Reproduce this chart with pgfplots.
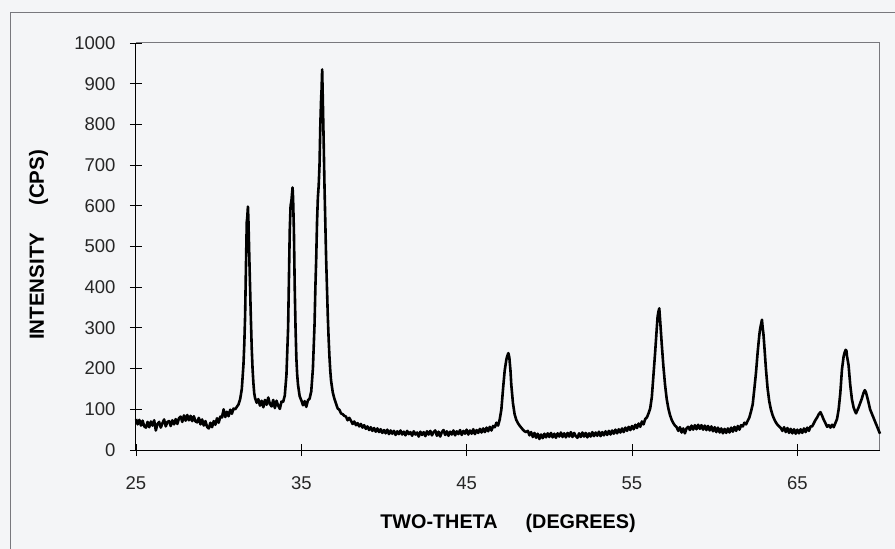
\documentclass[border=0pt]{standalone}
\usepackage{pgfplots}
\pgfplotsset{compat=1.18}
\usepackage{fontspec}
\setmainfont{Liberation Sans}
\definecolor{paper}{RGB}{244,245,247}
\definecolor{framegray}{RGB}{120,120,125}
\begin{document}
\begin{tikzpicture}
\useasboundingbox (-136pt,-99pt) rectangle (759pt,450pt);
\fill[paper] (-136pt,-99pt) rectangle (759pt,450pt);
\draw[framegray, line width=1.3pt] (-125.5pt,-99pt) -- (-125.5pt,437.5pt) -- (759pt,437.5pt);
\begin{axis}[
  at={(0pt,0pt)}, anchor=south west,
  scale only axis, width=744pt, height=407pt,
  xmin=25, xmax=70, ymin=0, ymax=1000,
  xtick={25,35,45,55,65}, ytick={0,100,...,1000},
  axis x line*=bottom, axis y line*=left,
  axis line style={black, line width=1pt},
  tick align=center, major tick length=12pt,
  tick style={black, line width=0.9pt},
  /pgf/number format/assume math mode=true,
  /pgf/number format/1000 sep={},
  ticklabel style={font=\fontsize{18.5}{20}\selectfont, text=black!85},
  yticklabel style={xshift=-11pt},
  xticklabel style={yshift=-17pt},
  xlabel={TWO-THETA\hspace{28pt}(DEGREES)},
  ylabel={INTENSITY\hspace{27pt}(CPS)},
  xlabel style={font=\bfseries\fontsize{19.8}{22}\selectfont, at={(axis description cs:0.5,-0.181)}, anchor=center},
  ylabel style={font=\bfseries\fontsize{20.5}{22}\selectfont, at={(axis description cs:-0.131,0.504)}, anchor=center},
  clip=false,
]
\draw[framegray, line width=1pt] (rel axis cs:0,1) -- (rel axis cs:1,1) -- (rel axis cs:1,0);
\addplot[black, line width=2.6pt, line join=round] coordinates {
(25.0,76) (25.1,63) (25.2,74) (25.3,60) (25.4,72) (25.5,58) (25.6,55) (25.7,69) (25.8,56) (25.9,70)
(26.0,60) (26.1,73) (26.2,48) (26.3,64) (26.4,69) (26.5,55) (26.6,66) (26.7,75) (26.8,58) (26.9,69)
(27.0,71) (27.1,59) (27.2,73) (27.3,63) (27.4,76) (27.5,64) (27.6,78) (27.7,82) (27.8,69) (27.9,85)
(28.0,72) (28.1,86) (28.2,73) (28.3,84) (28.4,71) (28.5,83) (28.6,70) (28.7,68) (28.8,79) (28.9,63)
(29.0,75) (29.1,60) (29.2,71) (29.3,57) (29.4,53) (29.5,67) (29.6,56) (29.7,71) (29.8,62) (29.9,78)
(30.0,67) (30.1,82) (30.2,80) (30.3,100) (30.4,81) (30.5,94) (30.6,83) (30.7,99) (30.8,89) (30.9,102)
(31.0,100) (31.1,106) (31.2,112) (31.3,125) (31.4,150) (31.5,210) (31.55,260) (31.6,330) (31.65,450) (31.7,560)
(31.73,572) (31.77,598) (31.8,565) (31.85,480) (31.9,400) (31.95,320) (32.0,250) (32.05,200) (32.1,165) (32.15,140)
(32.2,128) (32.3,116) (32.4,125) (32.5,109) (32.6,121) (32.7,105) (32.8,123) (32.9,111) (33.0,129) (33.1,113)
(33.2,107) (33.3,123) (33.4,103) (33.5,121) (33.6,109) (33.7,101) (33.8,119) (33.9,118) (34.0,134) (34.1,185)
(34.2,300) (34.25,420) (34.3,540) (34.35,600) (34.4,612) (34.47,645) (34.5,620) (34.55,540) (34.6,400) (34.65,300)
(34.7,225) (34.75,185) (34.8,160) (34.9,132) (35.0,122) (35.1,110) (35.2,120) (35.3,106) (35.4,122) (35.5,126)
(35.6,144) (35.7,200) (35.8,310) (35.85,400) (35.9,470) (35.95,560) (36.0,620) (36.05,650) (36.1,700) (36.15,800)
(36.2,868) (36.22,880) (36.26,935) (36.3,860) (36.35,760) (36.4,650) (36.45,560) (36.5,470) (36.55,400) (36.6,330)
(36.65,275) (36.7,230) (36.75,195) (36.8,170) (36.9,142) (37.0,126) (37.1,114) (37.2,102) (37.3,99) (37.4,90)
(37.5,88) (37.6,84) (37.7,82) (37.8,73) (37.9,79) (38.0,72) (38.1,64) (38.2,70) (38.3,61) (38.4,66)
(38.5,58) (38.6,64) (38.7,55) (38.8,61) (38.9,52) (39.0,58) (39.1,49) (39.2,56) (39.3,47) (39.4,54)
(39.5,45) (39.6,53) (39.7,44) (39.8,51) (39.9,42) (40.0,49) (40.1,41) (40.2,50) (40.3,39) (40.4,48)
(40.5,40) (40.6,47) (40.7,37) (40.8,46) (40.9,39) (41.0,48) (41.1,38) (41.2,45) (41.3,36) (41.4,47)
(41.5,39) (41.6,44) (41.7,35) (41.8,46) (41.9,38) (42.0,43) (42.1,33) (42.2,45) (42.3,37) (42.4,44)
(42.5,34) (42.6,46) (42.7,38) (42.8,47) (42.9,36) (43.0,44) (43.1,48) (43.2,35) (43.3,45) (43.4,33)
(43.5,44) (43.6,49) (43.7,37) (43.8,46) (43.9,35) (44.0,45) (44.1,38) (44.2,48) (44.3,36) (44.4,46)
(44.5,39) (44.6,49) (44.7,37) (44.8,47) (44.9,40) (45.0,50) (45.1,38) (45.2,48) (45.3,40) (45.4,51)
(45.5,39) (45.6,49) (45.7,42) (45.8,52) (45.9,43) (46.0,53) (46.1,44) (46.2,55) (46.3,46) (46.4,57)
(46.5,48) (46.6,59) (46.7,56) (46.8,67) (46.9,60) (47.0,75) (47.1,100) (47.2,150) (47.3,195) (47.4,222)
(47.45,230) (47.52,238) (47.58,228) (47.65,195) (47.7,160) (47.8,115) (47.9,88) (48.0,74) (48.1,66) (48.2,60)
(48.3,55) (48.4,50) (48.5,46) (48.6,44) (48.7,47) (48.8,36) (48.9,44) (49.0,32) (49.1,42) (49.2,30)
(49.3,40) (49.4,27) (49.5,38) (49.6,29) (49.7,40) (49.8,31) (49.9,41) (50.0,32) (50.1,42) (50.2,31)
(50.3,40) (50.4,30) (50.5,41) (50.6,33) (50.7,43) (50.8,32) (50.9,41) (51.0,31) (51.1,42) (51.2,33)
(51.3,44) (51.4,32) (51.5,42) (51.6,34) (51.7,30) (51.8,41) (51.9,32) (52.0,43) (52.1,33) (52.2,42)
(52.3,31) (52.4,41) (52.5,33) (52.6,44) (52.7,34) (52.8,43) (52.9,35) (53.0,45) (53.1,34) (53.2,44)
(53.3,36) (53.4,46) (53.5,37) (53.6,47) (53.7,38) (53.8,48) (53.9,40) (54.0,50) (54.1,41) (54.2,51)
(54.3,43) (54.4,53) (54.5,44) (54.6,55) (54.7,47) (54.8,57) (54.9,49) (55.0,59) (55.1,51) (55.2,62)
(55.3,54) (55.4,65) (55.5,57) (55.6,70) (55.7,63) (55.8,76) (55.9,80) (56.0,90) (56.1,102) (56.2,130)
(56.3,185) (56.4,240) (56.5,300) (56.55,328) (56.6,340) (56.65,348) (56.7,320) (56.75,290) (56.8,260) (56.9,205)
(57.0,160) (57.1,125) (57.2,102) (57.3,86) (57.4,74) (57.5,66) (57.6,60) (57.7,56) (57.8,47) (57.9,56)
(58.0,43) (58.1,53) (58.2,41) (58.3,53) (58.4,57) (58.5,49) (58.6,60) (58.7,50) (58.8,61) (58.9,51)
(59.0,62) (59.1,52) (59.2,61) (59.3,50) (59.4,60) (59.5,49) (59.6,59) (59.7,48) (59.8,58) (59.9,46)
(60.0,56) (60.1,44) (60.2,55) (60.3,43) (60.4,53) (60.5,41) (60.6,52) (60.7,42) (60.8,53) (60.9,43)
(61.0,55) (61.1,45) (61.2,57) (61.3,47) (61.4,59) (61.5,50) (61.6,61) (61.7,58) (61.8,67) (61.9,63)
(62.0,72) (62.1,80) (62.2,95) (62.3,112) (62.4,150) (62.5,190) (62.6,240) (62.7,282) (62.75,298) (62.8,308)
(62.86,320) (62.9,302) (62.95,285) (63.0,258) (63.1,200) (63.2,152) (63.3,120) (63.4,100) (63.5,86) (63.6,76)
(63.7,68) (63.8,62) (63.9,58) (64.0,54) (64.1,47) (64.2,56) (64.3,44) (64.4,54) (64.5,42) (64.6,52)
(64.7,41) (64.8,51) (64.9,40) (65.0,50) (65.1,41) (65.2,51) (65.3,42) (65.4,53) (65.5,44) (65.6,55)
(65.7,47) (65.8,58) (65.9,58) (66.0,66) (66.1,74) (66.2,80) (66.3,88) (66.4,93) (66.5,84) (66.6,74)
(66.7,66) (66.8,57) (66.9,61) (67.0,55) (67.1,62) (67.2,56) (67.3,66) (67.4,76) (67.5,100) (67.6,140)
(67.7,198) (67.8,230) (67.85,238) (67.92,246) (67.97,244) (68.0,232) (68.1,208) (68.2,160) (68.3,125) (68.4,105)
(68.5,94) (68.55,90) (68.6,95) (68.7,104) (68.8,115) (68.9,126) (69.0,140) (69.08,147) (69.15,142) (69.2,134)
(69.3,118) (69.4,100) (69.5,90) (69.6,80) (69.7,70) (69.8,60) (69.9,50) (70.0,40)
};
\end{axis}
\end{tikzpicture}
\end{document}
